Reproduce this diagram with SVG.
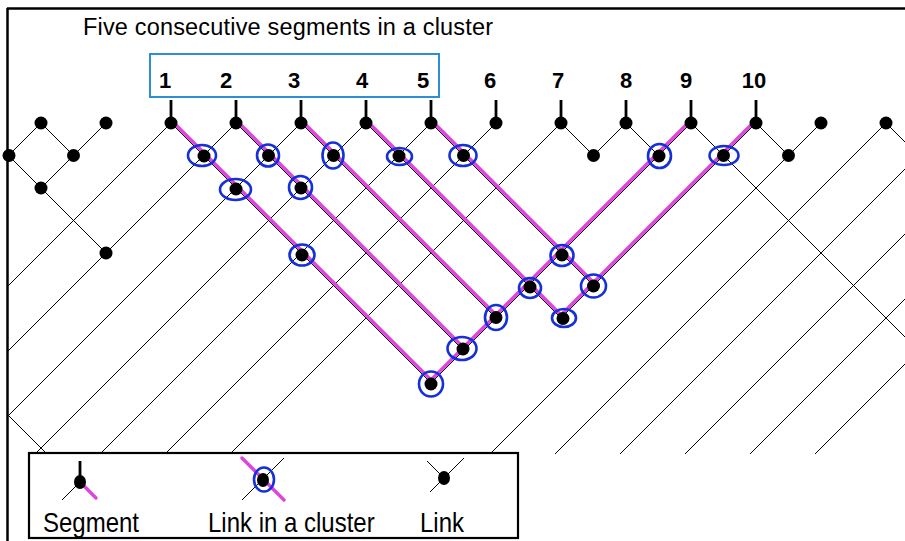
<svg xmlns="http://www.w3.org/2000/svg" width="905" height="541" viewBox="0 0 905 541">
<style>
.t{font-family:"Liberation Sans",Arial,sans-serif;fill:#000}
.num{font-family:"Liberation Sans",Arial,sans-serif;font-weight:bold;font-size:22px;text-anchor:middle}
.ln{stroke:#000;stroke-width:1;fill:none}
.pk{stroke:#de45de;stroke-width:3.4;fill:none;stroke-linecap:round}
.dot{fill:#000}
.ov{fill:none;stroke:#1530d8;stroke-width:2.6}
.tick{stroke:#000;stroke-width:2.8}
</style>
<defs>
<clipPath id="area"><rect x="8" y="9" width="897" height="445"/></clipPath>
</defs>
<rect width="905" height="541" fill="#fff"/>
<g id="frame">
<line x1="7" y1="8.5" x2="905" y2="8.5" stroke="#000" stroke-width="2.5"/>
<line x1="7.5" y1="8" x2="7.5" y2="541" stroke="#000" stroke-width="2.5"/>
</g>
<text class="t" x="83" y="35" font-size="23.5" textLength="410">Five consecutive segments in a cluster</text>
<rect id="cluster-box" x="150" y="54" width="289" height="43" fill="none" stroke="#2b8fd4" stroke-width="2"/>
<g id="labels">
<text class="num" x="165" y="87.5">1</text>
<text class="num" x="226" y="87.5">2</text>
<text class="num" x="294" y="87.5">3</text>
<text class="num" x="362" y="87.5">4</text>
<text class="num" x="423" y="87.5">5</text>
<text class="num" x="490" y="87.5">6</text>
<text class="num" x="558" y="87.5">7</text>
<text class="num" x="626" y="87.5">8</text>
<text class="num" x="686" y="87.5">9</text>
<text class="num" x="754" y="87.5">10</text>
</g>
<g id="connectors">
<g clip-path="url(#area)" class="ln">
<line x1="41" y1="123" x2="8.5" y2="155.5"/>
<line x1="106" y1="123" x2="41" y2="188"/>
<line x1="171" y1="123" x2="-24" y2="318"/>
<line x1="236" y1="123" x2="-24" y2="383"/>
<line x1="301" y1="123" x2="-24" y2="448"/>
<line x1="366" y1="123" x2="-24" y2="513"/>
<line x1="431" y1="123" x2="41" y2="513"/>
<line x1="496" y1="123" x2="106" y2="513"/>
<line x1="561" y1="123" x2="171" y2="513"/>
<line x1="626" y1="123" x2="593.5" y2="155.5"/>
<line x1="691" y1="123" x2="431" y2="383"/>
<line x1="756" y1="123" x2="561" y2="318"/>
<line x1="821" y1="123" x2="431" y2="513"/>
<line x1="886" y1="123" x2="496" y2="513"/>
<line x1="951" y1="123" x2="561" y2="513"/>
<line x1="1016" y1="123" x2="626" y2="513"/>
<line x1="1081" y1="123" x2="691" y2="513"/>
<line x1="1146" y1="123" x2="756" y2="513"/>
<line x1="41" y1="123" x2="73.5" y2="155.5"/>
<line x1="8.5" y1="155.5" x2="106" y2="253"/>
<line x1="-24" y1="383" x2="73.5" y2="480.5"/>
<line x1="171" y1="123" x2="431" y2="383"/>
<line x1="236" y1="123" x2="463.5" y2="350.5"/>
<line x1="301" y1="123" x2="496" y2="318"/>
<line x1="366" y1="123" x2="561" y2="318"/>
<line x1="431" y1="123" x2="593.5" y2="285.5"/>
<line x1="561" y1="123" x2="593.5" y2="155.5"/>
<line x1="626" y1="123" x2="658.5" y2="155.5"/>
<line x1="691" y1="123" x2="951" y2="383"/>
<line x1="756" y1="123" x2="788.5" y2="155.5"/>
<line x1="886" y1="123" x2="951" y2="188"/>
</g>
<g id="cluster-path" class="pk">
<line x1="172.5" y1="121.5" x2="432.5" y2="381.5"/>
<line x1="237.5" y1="121.5" x2="465" y2="349"/>
<line x1="302.5" y1="121.5" x2="497.5" y2="316.5"/>
<line x1="367.5" y1="121.5" x2="562.5" y2="316.5"/>
<line x1="432.5" y1="121.5" x2="595" y2="284"/>
<line x1="689.5" y1="121.5" x2="429.5" y2="381.5"/>
<line x1="754.5" y1="121.5" x2="559.5" y2="316.5"/>
</g>
</g>
<g id="segments">
<g id="seg1"><line class="tick" x1="171" y1="100" x2="171" y2="123"/><circle class="dot" cx="171" cy="123" r="6.5"/></g>
<g id="seg2"><line class="tick" x1="236" y1="100" x2="236" y2="123"/><circle class="dot" cx="236" cy="123" r="6.5"/></g>
<g id="seg3"><line class="tick" x1="301" y1="100" x2="301" y2="123"/><circle class="dot" cx="301" cy="123" r="6.5"/></g>
<g id="seg4"><line class="tick" x1="366" y1="100" x2="366" y2="123"/><circle class="dot" cx="366" cy="123" r="6.5"/></g>
<g id="seg5"><line class="tick" x1="431" y1="100" x2="431" y2="123"/><circle class="dot" cx="431" cy="123" r="6.5"/></g>
<g id="seg6"><line class="tick" x1="496" y1="100" x2="496" y2="123"/><circle class="dot" cx="496" cy="123" r="6.5"/></g>
<g id="seg7"><line class="tick" x1="561" y1="100" x2="561" y2="123"/><circle class="dot" cx="561" cy="123" r="6.5"/></g>
<g id="seg8"><line class="tick" x1="626" y1="100" x2="626" y2="123"/><circle class="dot" cx="626" cy="123" r="6.5"/></g>
<g id="seg9"><line class="tick" x1="691" y1="100" x2="691" y2="123"/><circle class="dot" cx="691" cy="123" r="6.5"/></g>
<g id="seg10"><line class="tick" x1="756" y1="100" x2="756" y2="123"/><circle class="dot" cx="756" cy="123" r="6.5"/></g>
</g>
<g id="links">
<circle id="n-4_0" class="dot" cx="41" cy="123" r="6.5"/>
<circle id="n-2_0" class="dot" cx="106" cy="123" r="6.5"/>
<circle id="n20_0" class="dot" cx="821" cy="123" r="6.5"/>
<circle id="n22_0" class="dot" cx="886" cy="123" r="6.5"/>
<circle id="n-5_1" class="dot" cx="9" cy="155.5" r="6.5"/>
<circle id="n-3_1" class="dot" cx="73.5" cy="155.5" r="6.5"/>
<circle id="n13_1" class="dot" cx="593.5" cy="155.5" r="6.5"/>
<circle id="n19_1" class="dot" cx="788.5" cy="155.5" r="6.5"/>
<circle id="n-4_2" class="dot" cx="41" cy="188" r="6.5"/>
<circle id="n-2_4" class="dot" cx="106" cy="253" r="6.5"/>
</g>
<g id="cluster-links">
<g id="c1_1"><circle class="dot" cx="204" cy="156" r="6.5"/><ellipse class="ov" cx="202" cy="155.5" rx="14" ry="10.5"/></g>
<g id="c3_1"><circle class="dot" cx="268.5" cy="155.5" r="6.5"/><ellipse class="ov" cx="268" cy="155.5" rx="11" ry="11"/></g>
<g id="c5_1"><circle class="dot" cx="333.5" cy="155.5" r="6.5"/><ellipse class="ov" cx="333" cy="155.5" rx="10.5" ry="13"/></g>
<g id="c7_1"><circle class="dot" cx="399" cy="156" r="6.5"/><ellipse class="ov" cx="399.5" cy="156.5" rx="12.5" ry="8.5"/></g>
<g id="c9_1"><circle class="dot" cx="463.5" cy="155.5" r="6.5"/><ellipse class="ov" cx="463" cy="155.5" rx="13.5" ry="10.5"/></g>
<g id="c15_1"><circle class="dot" cx="659" cy="156" r="6.5"/><ellipse class="ov" cx="659.5" cy="156" rx="11.5" ry="12"/></g>
<g id="c17_1"><circle class="dot" cx="723.5" cy="155.5" r="6.5"/><ellipse class="ov" cx="724" cy="155.5" rx="14.5" ry="9.5"/></g>
<g id="c2_2"><circle class="dot" cx="236" cy="189" r="6.5"/><ellipse class="ov" cx="235.5" cy="189.5" rx="15.5" ry="10.5"/></g>
<g id="c4_2"><circle class="dot" cx="301" cy="188" r="6.5"/><ellipse class="ov" cx="300.5" cy="187.5" rx="11.5" ry="11.5"/></g>
<g id="c4_4"><circle class="dot" cx="302" cy="255" r="6.5"/><ellipse class="ov" cx="302" cy="255" rx="12.5" ry="10.5"/></g>
<g id="c12_4"><circle class="dot" cx="562" cy="255" r="6.5"/><ellipse class="ov" cx="562" cy="255.5" rx="11.5" ry="10.5"/></g>
<g id="c11_5"><circle class="dot" cx="530" cy="287" r="6.5"/><ellipse class="ov" cx="530" cy="288" rx="11" ry="10"/></g>
<g id="c13_5"><circle class="dot" cx="593.5" cy="286" r="6.5"/><ellipse class="ov" cx="593.5" cy="286" rx="12.5" ry="11.5"/></g>
<g id="c10_6"><circle class="dot" cx="496" cy="317.5" r="6.5"/><ellipse class="ov" cx="496" cy="317.5" rx="11" ry="12.5"/></g>
<g id="c12_6"><circle class="dot" cx="563" cy="318.5" r="6.5"/><ellipse class="ov" cx="564" cy="318" rx="12" ry="9"/></g>
<g id="c9_7"><circle class="dot" cx="463" cy="349" r="6.5"/><ellipse class="ov" cx="462" cy="348.5" rx="14.5" ry="11.5"/></g>
<g id="c8_8"><circle class="dot" cx="431" cy="384" r="6.5"/><ellipse class="ov" cx="431" cy="384" rx="12" ry="12.5"/></g>
</g>
<g id="legend">
<rect x="29" y="453" width="489" height="85" fill="#fff" stroke="#000" stroke-width="2.2"/>
<g id="legend-segment">
<line class="ln" x1="80" y1="482" x2="62" y2="500"/>
<line class="pk" x1="80" y1="482" x2="96" y2="498" stroke-width="2.6"/>
<line class="tick" x1="80" y1="461" x2="80" y2="480"/>
<ellipse class="dot" cx="80" cy="482" rx="6" ry="7"/>
<text class="t" transform="translate(43,532) scale(1,1.16)" font-size="24">Segment</text>
</g>
<g id="legend-cluster-link">
<line class="ln" x1="284" y1="458" x2="242" y2="500"/>
<line class="pk" x1="242" y1="458" x2="284" y2="500" stroke-width="2.6"/>
<ellipse class="dot" cx="263" cy="480" rx="6" ry="7"/>
<ellipse class="ov" cx="264" cy="479.5" rx="10" ry="12"/>
<text class="t" transform="translate(208,532) scale(1,1.16)" font-size="24">Link in a cluster</text>
</g>
<g id="legend-link">
<line class="ln" x1="427" y1="461" x2="444" y2="478"/>
<line class="ln" x1="464" y1="458" x2="430" y2="492"/>
<ellipse class="dot" cx="444" cy="478" rx="6" ry="7"/>
<text class="t" transform="translate(420,532) scale(1,1.16)" font-size="24">Link</text>
</g>
</g>
</svg>
